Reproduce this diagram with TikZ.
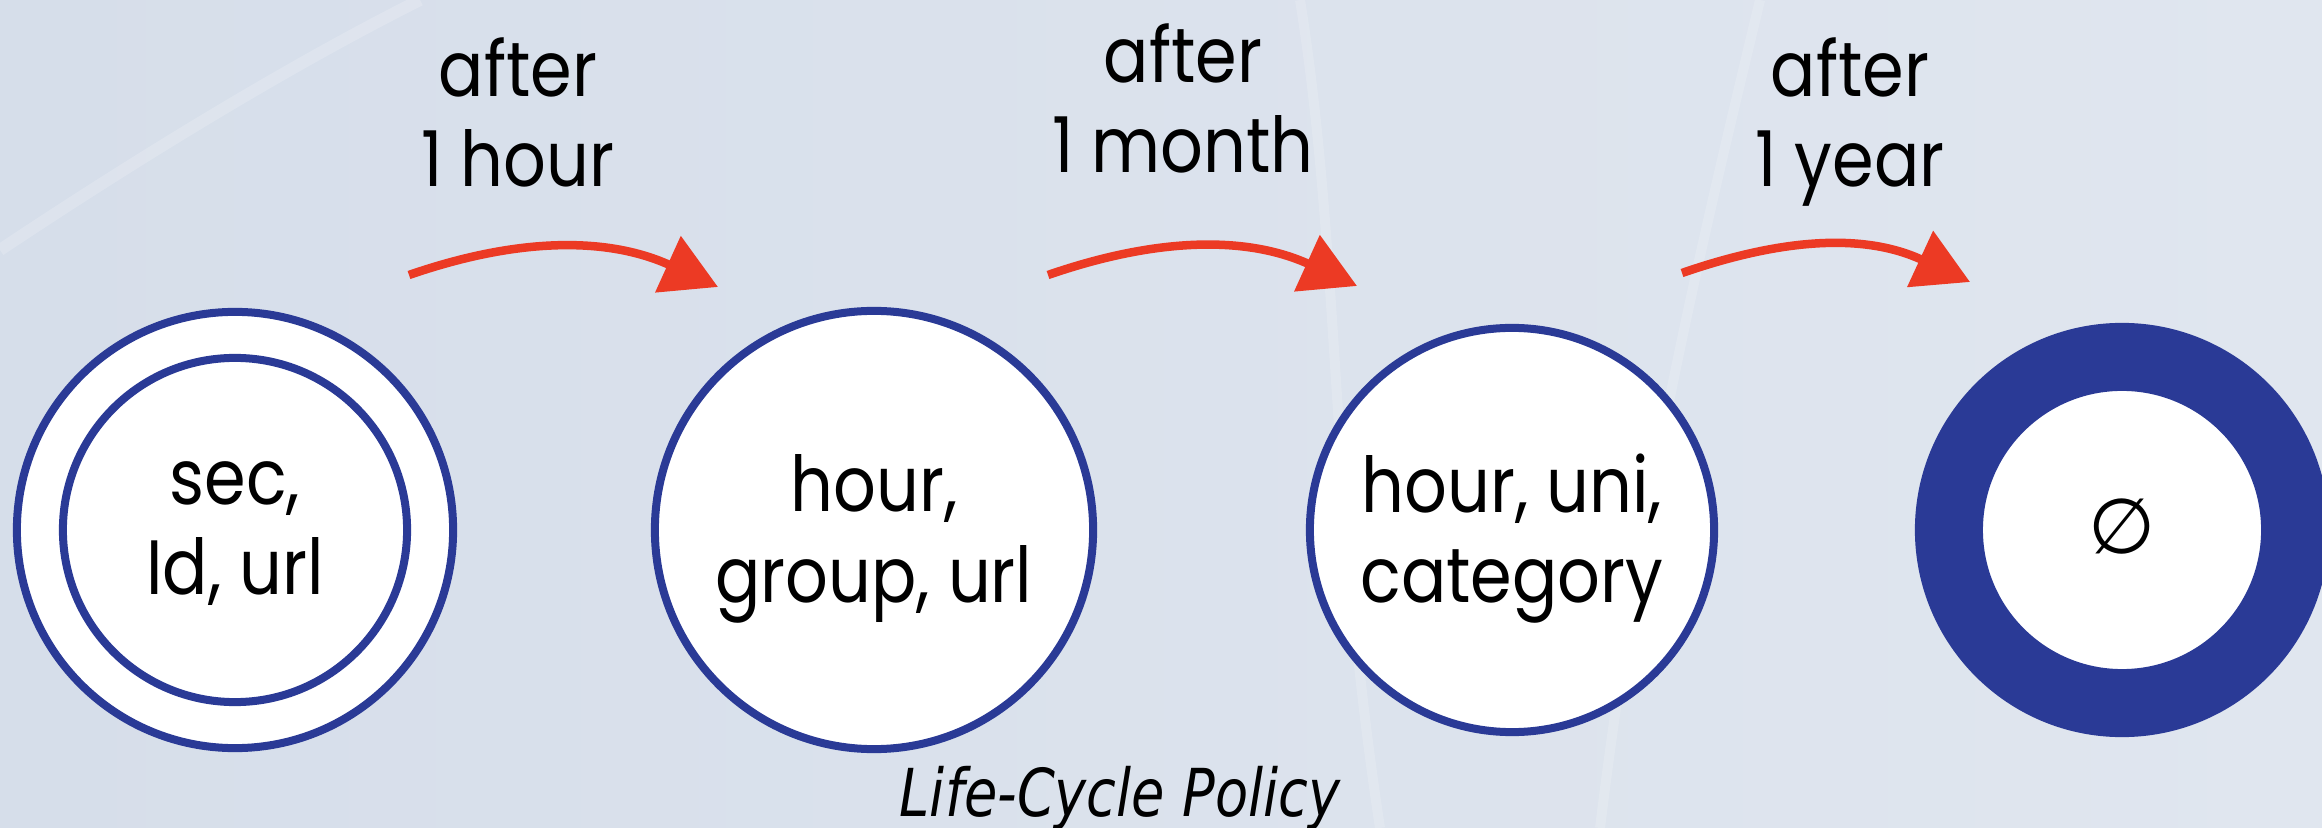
\documentclass[tikz,border=0pt]{standalone}
\usepackage{fontspec}
\setmainfont[FakeStretch=0.87]{Poppins}
\newfontfamily\capfont[FakeStretch=0.82]{DejaVu Sans}
\newfontfamily\symfont{DejaVu Sans}
\usetikzlibrary{arrows.meta}

\definecolor{ringblue}{RGB}{42,58,150}
\definecolor{arrowred}{RGB}{236,58,36}
\definecolor{bgleft}{RGB}{214,222,234}
\definecolor{bgmid}{RGB}{231,235,242}
\definecolor{bgright}{RGB}{224,230,239}

\newcommand\bigtext{\fontsize{21.9pt}{25.6pt}\selectfont}

\tikzset{
  state/.style={circle, draw=ringblue, line width=0.08cm, fill=white, inner sep=0pt},
  note/.style={inner sep=0pt, align=center, font=\bigtext,
    execute at begin node=\strut, execute at end node=\strut},
  flow/.style={draw=arrowred, line width=0.085cm, -{Triangle[length=0.55cm,width=0.6cm]}}
}

\begin{document}
\begin{tikzpicture}[x=0.01cm, y=-0.01cm]
\useasboundingbox (0,0) rectangle (2322,828);
\shade[left color=bgleft, middle color=bgmid, right color=bgright] (0,0) rectangle (2322,828);
% faint streaks in the background
\draw[white, opacity=.18, line width=0.12cm] (0,250) .. controls (150,150) and (300,60) .. (420,0);
\draw[white, opacity=.15, line width=0.1cm] (1300,0) .. controls (1340,250) and (1330,500) .. (1380,828);
\draw[white, opacity=.15, line width=0.1cm] (1600,828) .. controls (1640,500) and (1700,250) .. (1760,0);

% states
\node[state, minimum size=4.36cm] (sec) at (235,530) {};
\node[state, minimum size=3.44cm] (secin) at (sec) {};
\node[state, minimum size=4.38cm] (hour) at (874,530) {};
\node[state, minimum size=4.04cm] (uni) at (1512,530) {};
\node[state, line width=0.68cm, minimum size=3.46cm] (none) at (2122,530) {};

\node[note] (sectxt) at (235,542) {sec,\\Id, url};
\node[note] (hourtxt) at (874,542) {hour,\\group, url};
\node[note] (unitxt) at (1512,542) {hour, uni,\\category};
\node[inner sep=0pt, font=\symfont\bigtext] (nonetxt) at (2122,527) {∅};

% transitions
\node[note] (t1) at (518,126) {after\\1 hour};
\node[note] (t2) at (1183,112) {after\\1 month};
\node[note] (t3) at (1850,126) {after\\1 year};

\coordinate (a1s) at (409,275);  \coordinate (a1e) at (718,287);
\coordinate (a2s) at (1048,275); \coordinate (a2e) at (1357,286);
\coordinate (a3s) at (1682,273); \coordinate (a3e) at (1970,282);
\draw[flow] (a1s) .. controls +(110,-38) and +(-110,-50) .. (a1e);
\draw[flow] (a2s) .. controls +(110,-38) and +(-110,-50) .. (a2e);
\draw[flow] (a3s) .. controls +(104,-36) and +(-104,-48) .. (a3e);

\node[anchor=base, inner sep=0pt, font={\capfont\itshape\fontsize{18.8pt}{22pt}\selectfont}] (policy) at (1120,816) {Life-Cycle Policy};
\end{tikzpicture}
\end{document}
